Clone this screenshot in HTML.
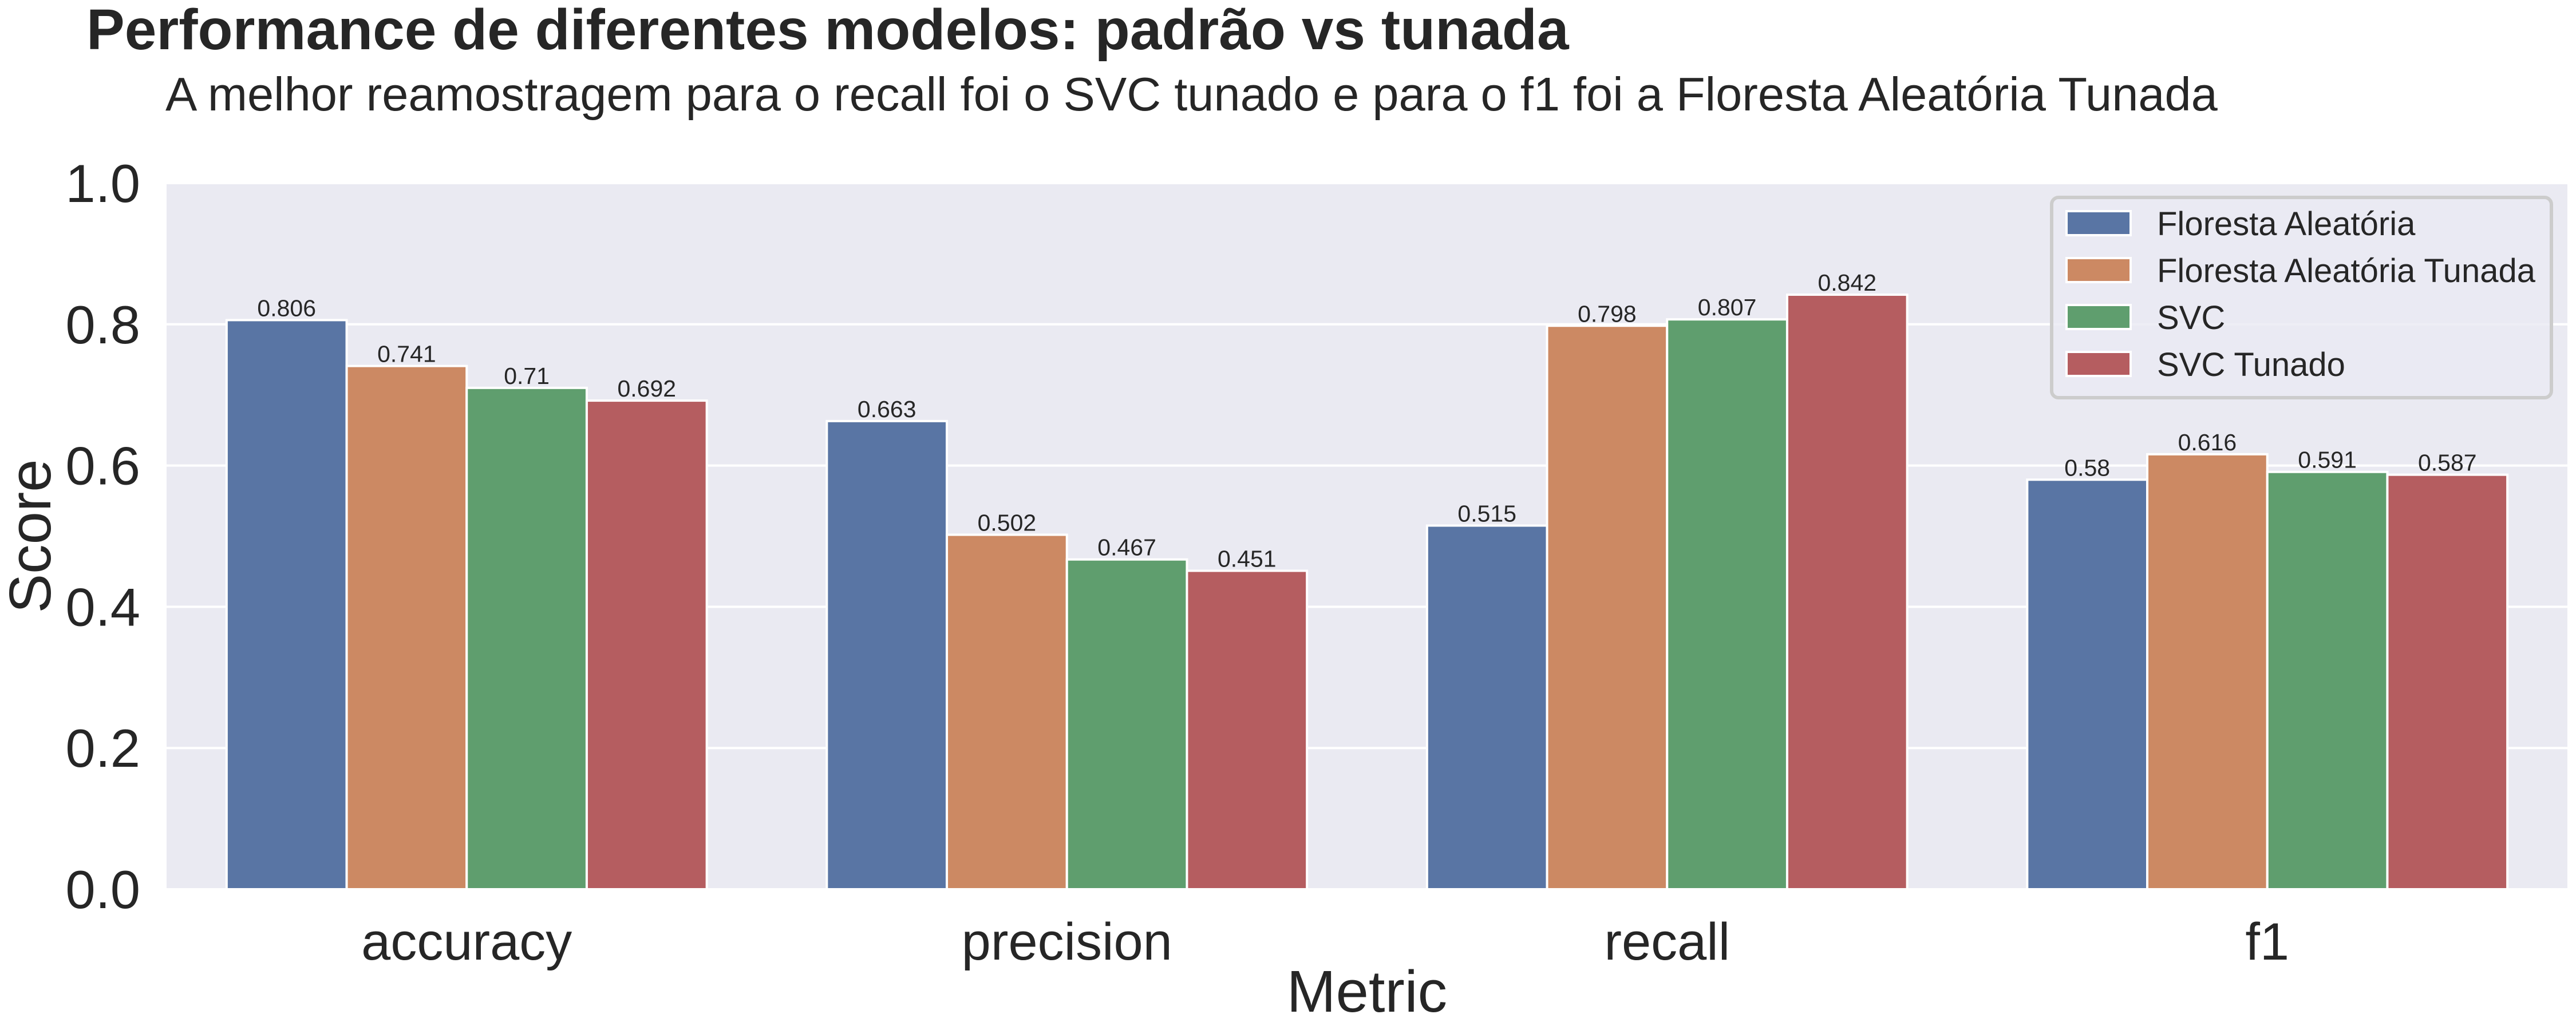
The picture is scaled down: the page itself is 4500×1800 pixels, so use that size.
<!DOCTYPE html>
<html><head><meta charset="utf-8"><style>
html,body{margin:0;padding:0;background:#fff;}
svg{display:block;font-family:"Liberation Sans",Arial,sans-serif;}
</style></head><body>
<svg id="chart" width="4500" height="1800" viewBox="0 0 4500 1800" xmlns="http://www.w3.org/2000/svg">
<text x="151" y="86" font-size="100" font-weight="bold" fill="#262626">Performance de diferentes modelos: padrão vs tunada</text>
<text x="289" y="193" font-size="83" fill="#262626">A melhor reamostragem para o recall foi o SVC tunado e para o f1 foi a Floresta Aleatória Tunada</text>
<rect x="291" y="320" width="4194" height="1234" fill="#eaeaf2"/>
<g id="grid"></g>
<g id="bars"></g>
<g id="labels"></g>
<g id="yticks"></g>
<g id="xticks"></g>
<text transform="translate(88,937) rotate(-90)" text-anchor="middle" font-size="103" fill="#262626">Score</text>
<text x="2388" y="1768" text-anchor="middle" font-size="103" fill="#262626">Metric</text>
<g id="legend"></g>
</svg>
<script>
const categories = ["accuracy","precision","recall","f1"];
const seriesNames = ["Floresta Aleatória","Floresta Aleatória Tunada","SVC","SVC Tunado"];
const florestaValues = [0.806,0.663,0.515,0.58];
const florestaTunadaValues = [0.741,0.502,0.798,0.616];
const svcValues = [0.71,0.467,0.807,0.591];
const svcTunadoValues = [0.692,0.451,0.842,0.587];
const yTicks = [0.0,0.2,0.4,0.6,0.8,1.0];
const colors = ["#5975a4","#cc8963","#5f9e6e","#b55d60"];
const series = [florestaValues,florestaTunadaValues,svcValues,svcTunadoValues];

const NS="http://www.w3.org/2000/svg";
const L=291,R=4485,T=320,B=1554;
function yScale(v){return B-(v-0)/(1-0)*(B-T);}
const bandW=(R-L)/categories.length;
function xBand(i){return L+i*bandW;}
const groupW=bandW*0.8, barW=groupW/series.length;
function mk(tag,attrs,parent){const e=document.createElementNS(NS,tag);for(const k in attrs)e.setAttribute(k,attrs[k]);parent.appendChild(e);return e;}

const grid=document.getElementById('grid'), yt=document.getElementById('yticks');
yTicks.forEach(t=>{
  const y=yScale(t);
  const g=mk('line',{x1:L,x2:R,y1:y,y2:y,stroke:'#fff','stroke-width':4},grid);
  
  
  const tx=mk('text',{x:245,y:y+33,'text-anchor':'end','font-size':94,fill:'#262626'},yt);
  tx.textContent=t.toFixed(1);
  
  
});
const bars=document.getElementById('bars'), labels=document.getElementById('labels'), xt=document.getElementById('xticks');
categories.forEach((c,i)=>{
  const cx=xBand(i)+bandW/2;
  const tx=mk('text',{x:cx,y:1677,'text-anchor':'middle','font-size':92,fill:'#262626'},xt);
  tx.textContent=c;
  
  
  series.forEach((s,j)=>{
    const x=cx-groupW/2+j*barW, y=yScale(s[i]);
    const r=mk('rect',{x:x,y:y,width:barW,height:B-y,fill:colors[j],stroke:'#fff','stroke-width':4},bars);
    
    
    const lb=mk('text',{x:x+barW/2,y:y-7,'text-anchor':'middle','font-size':41,fill:'#262626'},labels);
    lb.textContent=String(s[i]);
    
    
  });
});
const lg=document.getElementById('legend');
const box=mk('rect',{x:3584,y:345,width:873,height:350,rx:12,fill:'#eaeaf2',stroke:'#cccccc','stroke-width':6,'fill-opacity':0.8},lg);


seriesNames.forEach((n,j)=>{
  const cy=390+j*82;
  const p=mk('rect',{x:3610,y:cy-21,width:112,height:42,fill:colors[j],stroke:'#fff','stroke-width':4},lg);
  
  
  const t=mk('text',{x:3768,y:cy+21,'font-size':58,fill:'#262626'},lg);
  t.textContent=n;
  
  
});
</script>
</body></html>
